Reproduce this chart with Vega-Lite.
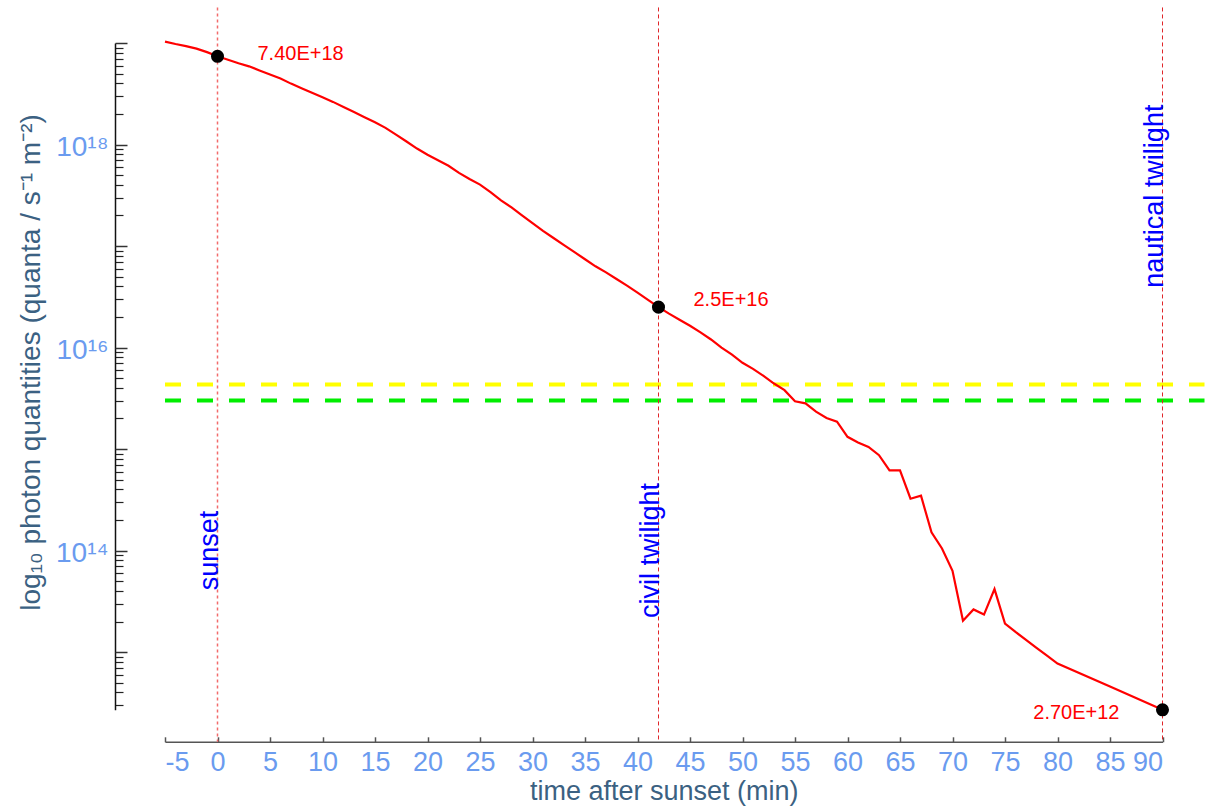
{
  "$schema": "https://vega.github.io/schema/vega-lite/v6.json",
  "autosize": {"type": "none"},
  "width": 997.5,
  "height": 666.8,
  "padding": {"left": 165, "top": 43, "right": 48.5, "bottom": 102.2},
  "background": "white",
  "config": {
    "view": {"stroke": null},
    "font": "Liberation Sans",
    "axis": {"labelFont": "Liberation Sans", "titleFont": "Liberation Sans", "grid": false}
  },
  "datasets": {
    "photon": [
      {"t": -5, "q": 1.03e19}, {"t": -4, "q": 9.77e18}, {"t": -3, "q": 9.33e18}, {"t": -2, "q": 8.81e18},
      {"t": -1, "q": 8.13e18}, {"t": 0, "q": 7.40e18}, {"t": 1, "q": 6.84e18}, {"t": 2, "q": 6.31e18},
      {"t": 3, "q": 5.89e18}, {"t": 4, "q": 5.37e18}, {"t": 5, "q": 4.90e18}, {"t": 6, "q": 4.47e18},
      {"t": 7, "q": 3.98e18}, {"t": 8, "q": 3.59e18}, {"t": 9, "q": 3.24e18}, {"t": 10, "q": 2.92e18},
      {"t": 11, "q": 2.63e18}, {"t": 12, "q": 2.34e18}, {"t": 13, "q": 2.09e18}, {"t": 14, "q": 1.86e18},
      {"t": 15, "q": 1.66e18}, {"t": 16, "q": 1.46e18}, {"t": 17, "q": 1.25e18}, {"t": 18, "q": 1.07e18},
      {"t": 19, "q": 9.12e17}, {"t": 20, "q": 7.94e17}, {"t": 21, "q": 7.00e17}, {"t": 22, "q": 6.17e17},
      {"t": 23, "q": 5.25e17}, {"t": 24, "q": 4.57e17}, {"t": 25, "q": 4.03e17}, {"t": 26, "q": 3.39e17},
      {"t": 27, "q": 2.82e17}, {"t": 28, "q": 2.40e17}, {"t": 29, "q": 2.00e17}, {"t": 30, "q": 1.68e17},
      {"t": 31, "q": 1.41e17}, {"t": 32, "q": 1.20e17}, {"t": 33, "q": 1.02e17}, {"t": 34, "q": 8.71e16},
      {"t": 35, "q": 7.41e16}, {"t": 36, "q": 6.31e16}, {"t": 37, "q": 5.50e16}, {"t": 38, "q": 4.73e16},
      {"t": 39, "q": 4.07e16}, {"t": 40, "q": 3.47e16}, {"t": 41, "q": 2.95e16}, {"t": 42, "q": 2.50e16},
      {"t": 43, "q": 2.16e16}, {"t": 44, "q": 1.88e16}, {"t": 45, "q": 1.64e16}, {"t": 46, "q": 1.41e16},
      {"t": 47, "q": 1.20e16}, {"t": 48, "q": 1.00e16}, {"t": 49, "q": 8.51e15}, {"t": 50, "q": 7.08e15},
      {"t": 51, "q": 6.17e15}, {"t": 52, "q": 5.25e15}, {"t": 53, "q": 4.42e15}, {"t": 54, "q": 3.80e15},
      {"t": 55, "q": 2.95e15}, {"t": 56, "q": 2.82e15}, {"t": 57, "q": 2.34e15}, {"t": 58, "q": 2.02e15},
      {"t": 59, "q": 1.86e15}, {"t": 60, "q": 1.32e15}, {"t": 61, "q": 1.16e15}, {"t": 62, "q": 1.05e15},
      {"t": 63, "q": 8.71e14}, {"t": 64, "q": 6.17e14}, {"t": 65, "q": 6.17e14}, {"t": 66, "q": 3.24e14},
      {"t": 67, "q": 3.47e14}, {"t": 68, "q": 1.51e14}, {"t": 69, "q": 1.05e14}, {"t": 70, "q": 6.31e13},
      {"t": 71, "q": 2.04e13}, {"t": 72, "q": 2.63e13}, {"t": 73, "q": 2.34e13}, {"t": 74, "q": 4.17e13},
      {"t": 75, "q": 1.91e13}, {"t": 76, "q": 1.58e13}, {"t": 77, "q": 1.32e13}, {"t": 78, "q": 1.10e13},
      {"t": 79, "q": 9.23e12}, {"t": 80, "q": 7.71e12}, {"t": 85, "q": 4.57e12}, {"t": 90, "q": 2.70e12}
    ],
    "events": [
      {"t": 0, "event": "sunset"},
      {"t": 42, "event": "civil twilight"},
      {"t": 90, "event": "nautical twilight"}
    ],
    "marked": [
      {"t": 0, "q": 7.40e18, "label": "7.40E+18"},
      {"t": 42, "q": 2.5e16, "label": "2.5E+16"},
      {"t": 90, "q": 2.70e12, "label": "2.70E+12"}
    ],
    "thresholds": [
      {"level": 4.32e15, "name": "upper"},
      {"level": 3.0e15, "name": "lower"}
    ]
  },
  "resolve": {"axis": {"x": "independent", "y": "independent"}},
  "layer": [
    {
      "data": {"name": "thresholds"},
      "mark": {"type": "rule", "strokeWidth": 4, "strokeDash": [16, 16]},
      "encoding": {
        "x": {"datum": -5, "type": "quantitative", "axis": null},
        "x2": {"datum": 94},
        "y": {"field": "level", "type": "quantitative", "scale": {"type": "log"}, "axis": null},
        "color": {
          "field": "name", "type": "nominal", "legend": null,
          "scale": {"domain": ["upper", "lower"], "range": ["#ffff00", "#00ee00"]}
        }
      }
    },
    {
      "data": {"name": "events"},
      "transform": [{"filter": "datum.t == 0"}],
      "mark": {"type": "rule", "color": "#f26b6b", "strokeWidth": 1.5, "strokeDash": [3, 3]},
      "encoding": {
        "x": {"field": "t", "type": "quantitative", "axis": null},
        "y": {"datum": 2.24e19, "type": "quantitative", "axis": null},
        "y2": {"datum": 1.31e12}
      }
    },
    {
      "data": {"name": "events"},
      "transform": [{"filter": "datum.t != 0"}],
      "mark": {"type": "rule", "color": "#e0262a", "strokeWidth": 1, "strokeDash": [4, 3]},
      "encoding": {
        "x": {"field": "t", "type": "quantitative", "axis": null},
        "y": {"datum": 2.24e19, "type": "quantitative", "axis": null},
        "y2": {"datum": 1.31e12}
      }
    },
    {
      "data": {"name": "photon"},
      "mark": {"type": "line", "color": "#ff0000", "strokeWidth": 2.2},
      "encoding": {
        "x": {
          "field": "t", "type": "quantitative",
          "scale": {"domain": [-5, 90], "nice": false, "zero": false},
          "axis": {
            "orient": "bottom",
            "title": "time after sunset (min)",
            "values": [-5, 0, 5, 10, 15, 20, 25, 30, 35, 40, 45, 50, 55, 60, 65, 70, 75, 80, 85, 90],
            "labelExpr": "datum.value < 0 ? '-' + abs(datum.value) : '' + datum.value",
            "offset": 32,
            "domainColor": "#555555", "domainWidth": 1.5,
            "tickColor": "#555555", "tickSize": -5, "tickWidth": 1.5,
            "labelColor": "#6a9bef", "labelFontSize": 27, "labelPadding": 13,
            "titleColor": "#3b6182", "titleFontSize": 27, "titleFontWeight": "normal", "titlePadding": 3
          }
        },
        "y": {
          "field": "q", "type": "quantitative",
          "scale": {"type": "log", "domain": [2.7e12, 1e19], "nice": false},
          "axis": {
            "orient": "left",
            "offset": 50,
            "values": [2e12, 3e12, 4e12, 5e12, 6e12, 7e12, 8e12, 9e12,
                       2e13, 3e13, 4e13, 5e13, 6e13, 7e13, 8e13, 9e13,
                       2e14, 3e14, 4e14, 5e14, 6e14, 7e14, 8e14, 9e14,
                       2e15, 3e15, 4e15, 5e15, 6e15, 7e15, 8e15, 9e15,
                       2e16, 3e16, 4e16, 5e16, 6e16, 7e16, 8e16, 9e16,
                       2e17, 3e17, 4e17, 5e17, 6e17, 7e17, 8e17, 9e17,
                       2e18, 3e18, 4e18, 5e18, 6e18, 7e18, 8e18, 9e18, 2e19],
            "labels": false,
            "title": null,
            "domainColor": "#111111", "domainWidth": 1.5,
            "tickColor": "#222222", "tickSize": -8, "tickWidth": 1.2
          }
        }
      }
    },
    {
      "data": {"name": "marked"},
      "mark": {"type": "circle", "color": "#000000", "opacity": 1, "size": 170},
      "encoding": {
        "x": {"field": "t", "type": "quantitative", "axis": null},
        "y": {
          "field": "q", "type": "quantitative",
          "axis": {
            "orient": "left",
            "offset": 50,
            "values": [1e13, 1e14, 1e15, 1e16, 1e17, 1e18, 1e19],
            "labelExpr": "datum.value == 1e18 ? '10¹⁸' : datum.value == 1e16 ? '10¹⁶' : datum.value == 1e14 ? '10¹⁴' : ''",
            "domain": false,
            "tickColor": "#333333", "tickSize": -12, "tickWidth": 1.5,
            "labelColor": "#6a9bef", "labelFontSize": 28, "labelPadding": 19, "labelBaseline": "middle", "labelOffset": 3,
            "title": "log₁₀ photon quantities (quanta / s⁻¹ m⁻²)",
            "titleColor": "#3b6182", "titleFontSize": 28, "titleFontWeight": "normal",
            "titlePadding": 10, "titleY": 319
          }
        }
      }
    },
    {
      "data": {"name": "marked"},
      "transform": [{"filter": "datum.t == 0"}],
      "mark": {"type": "text", "color": "#ff0000", "fontSize": 20, "align": "left", "baseline": "middle", "dx": 40, "dy": -2},
      "encoding": {
        "x": {"field": "t", "type": "quantitative", "axis": null},
        "y": {"field": "q", "type": "quantitative", "axis": null},
        "text": {"field": "label"}
      }
    },
    {
      "data": {"name": "marked"},
      "transform": [{"filter": "datum.t == 42"}],
      "mark": {"type": "text", "color": "#ff0000", "fontSize": 20, "align": "left", "baseline": "middle", "dx": 35, "dy": -7},
      "encoding": {
        "x": {"field": "t", "type": "quantitative", "axis": null},
        "y": {"field": "q", "type": "quantitative", "axis": null},
        "text": {"field": "label"}
      }
    },
    {
      "data": {"name": "marked"},
      "transform": [{"filter": "datum.t == 90"}],
      "mark": {"type": "text", "color": "#ff0000", "fontSize": 20, "align": "right", "baseline": "middle", "dx": -43, "dy": 3},
      "encoding": {
        "x": {"field": "t", "type": "quantitative", "axis": null},
        "y": {"field": "q", "type": "quantitative", "axis": null},
        "text": {"field": "label"}
      }
    },
    {
      "data": {"name": "events"},
      "transform": [{"filter": "datum.t != 90"}],
      "mark": {"type": "text", "color": "#0000ff", "fontSize": 27, "angle": 270, "align": "center", "baseline": "alphabetic"},
      "encoding": {
        "x": {"field": "t", "type": "quantitative", "axis": null},
        "y": {"datum": 1e14, "type": "quantitative", "axis": null},
        "text": {"field": "event"}
      }
    },
    {
      "data": {"name": "events"},
      "transform": [{"filter": "datum.t == 90"}],
      "mark": {"type": "text", "color": "#0000ff", "fontSize": 27, "angle": 270, "align": "center", "baseline": "alphabetic"},
      "encoding": {
        "x": {"field": "t", "type": "quantitative", "axis": null},
        "y": {"datum": 3.1e17, "type": "quantitative", "axis": null},
        "text": {"field": "event"}
      }
    }
  ]
}
